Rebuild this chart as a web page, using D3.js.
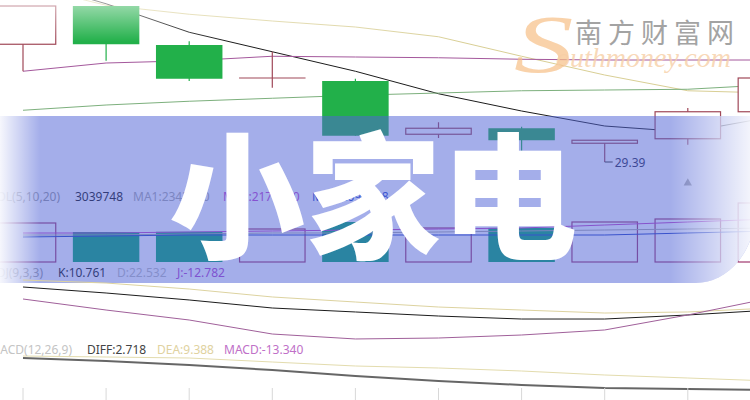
<!DOCTYPE html>
<html>
<head>
<meta charset="utf-8">
<script src="https://cdn.jsdelivr.net/npm/d3@7/dist/d3.min.js"></script>
<style>
html,body{margin:0;padding:0;background:#fff;}
svg{display:block;}
</style>
</head>
<body>
<svg id="chart" width="750" height="400"></svg>
<script>
// ---------- data ----------
const categories = ["D1","D2","D3","D4","D5","D6","D7","D8","D9","D10"];
const openP  = [30.96, 31.47, 30.95, 30.51, 30.47, 29.76, 29.84, 29.64, 29.70, 30.06];
const highP  = [31.47, 31.47, 31.00, 30.86, 30.50, 29.92, 29.86, 29.68, 30.11, 30.53];
const lowP   = [30.60, 30.74, 30.47, 30.38, 29.74, 29.71, 29.54, 29.39, 29.62, 30.04];
const closeP = [31.47, 30.96, 30.50, 30.51, 29.74, 29.84, 29.68, 29.68, 30.06, 30.51];
const ma5    = [31.82, 31.50, 31.12, 30.86, 30.60, 30.30, 30.07, 29.87, 29.79, 29.99];
const ma10   = [31.75, 31.48, 31.36, 31.27, 31.19, 31.06, 30.80, 30.55, 30.34, 30.31];
const ma20   = [30.60, 30.71, 30.74, 30.80, 30.79, 30.78, 30.76, 30.75, 30.75, 30.75];
const ma30   = [30.08, 30.15, 30.20, 30.24, 30.28, 30.31, 30.34, 30.35, 30.36, 30.42];
const volume = [2757000, 2121000, 2135000, 2333000, 2828000, 2404000, 2410000, 2828000, 3039748, 4171000];
const volMA1 = [1908700, 1908700, 1979400, 2050100, 2050100, 2120800, 2191500, 2262100, 2332800, 2403500];
const volMA2 = [2050000, 2050000, 2120800, 2191500, 2262100, 2332800, 2403500, 2615600, 2827700, 3039700];
const volMA3 = [1767300, 1838000, 1908700, 1908700, 1908700, 1908700, 1908700, 1908700, 2050100, 2191500];
const kLine  = [84.0, 76.0, 66.7, 56.0, 50.7, 45.3, 41.3, 41.3, 46.7, 53.3];
const dLine  = [93.3, 89.3, 81.3, 70.7, 64.0, 57.3, 53.3, 49.3, 50.7, 56.0];
const jLine  = [68.0, 53.3, 40.0, 21.3, 14.7, 16.0, 20.0, 26.7, 46.7, 69.3];
const diffLine = [0.68, 0.56, 0.40, 0.20, -0.04, -0.24, -0.40, -0.52, -0.56, -0.60];
const deaLine  = [0.76, 0.72, 0.68, 0.52, 0.36, 0.28, 0.16, 0.00, -0.12, -0.24];
const lowMarkLabel = "29.39";
const volLabels  = ["VOL(5,10,20)", "3039748", "MA1:2343520", "MA2:2174650", "MA3:2096548"];
const kdjLabels  = ["KDJ(9,3,3)", "K:10.761", "D:22.532", "J:-12.782"];
const macdLabels = ["MACD(12,26,9)", "DIFF:2.718", "DEA:9.388", "MACD:-13.340"];
const titleText = "小家电";
const wmCN = "南方财富网";
const wmS = "S";
const wmEN = "outhmoney.com";

// ---------- scales ----------
const svg = d3.select("#chart");
const W = 750, H = 400;
const x = d3.scaleBand().domain(categories).range([-18.55, 812.45]).paddingInner(0.2).paddingOuter(0.1);
const bw = x.bandwidth();
const cx = c => x(c) + bw / 2;
const yP = d3.scaleLinear().domain([29.39, 31.55]).range([162, 0]);
const yV = d3.scaleLinear().domain([0, 3039748]).range([262, 219]);
const yK = d3.scaleLinear().domain([0, 100]).range([350, 275]);
const yM = d3.scaleLinear().domain([-1, 1]).range([400, 350]);

const UP = "#a04858", DOWN = "#22b04a";
const defs = svg.append("defs");

const lineGen = (vals, ys) => d3.line().x((d, i) => cx(categories[i])).y(d => ys(d))(vals);
function drawLine(vals, ys, color, width) {
  svg.append("path").attr("d", lineGen(vals, ys)).attr("fill", "none")
    .attr("stroke", color).attr("stroke-width", width || 1);
}

// ---------- price panel ----------
drawLine(ma10, yP, "#d9cf95");
drawLine(ma5, yP, "#1c1c1c");
drawLine(ma20, yP, "#a4589c");
drawLine(ma30, yP, "#7db07d");

categories.forEach((c, i) => {
  const xc = cx(c), o = openP[i], cl = closeP[i];
  const up = cl >= o;
  const col = up ? UP : DOWN;
  const g = svg.append("g");
  g.append("line").attr("x1", xc).attr("x2", xc)
    .attr("y1", yP(highP[i])).attr("y2", yP(lowP[i])).attr("stroke", col).attr("stroke-width", 1.2);
  const yt = yP(Math.max(o, cl)), yb = yP(Math.min(o, cl));
  if (Math.abs(yb - yt) < 1) {
    g.append("line").attr("x1", x(c)).attr("x2", x(c) + bw).attr("y1", yt).attr("y2", yt)
      .attr("stroke", col).attr("stroke-width", 1.2);
  } else if (up) {
    g.append("rect").attr("x", x(c) + 0.5).attr("y", yt).attr("width", bw - 1).attr("height", yb - yt)
      .attr("fill", "#fff").attr("stroke", col).attr("stroke-width", 1.2);
  } else {
    g.append("rect").attr("x", x(c)).attr("y", yt).attr("width", bw).attr("height", yb - yt)
      .attr("fill", col);
  }
});

// low marker
const iLow = lowP.indexOf(d3.min(lowP));
const lx = cx(categories[iLow]), ly = yP(lowP[iLow]);
svg.append("path").attr("d", `M${lx},${ly}H${lx + 8}`).attr("stroke", "#333").attr("fill", "none");
svg.append("text").attr("x", lx + 10).attr("y", ly + 4.5).text(lowMarkLabel)
  .attr("font-family", "Noto Sans, sans-serif").attr("font-size", 12).attr("fill", "#2a2a50");
svg.append("path").attr("d", d3.symbol(d3.symbolTriangle, 30)()).attr("transform", `translate(${cx(categories[8])},183)`)
  .attr("fill", "#9a9a9a");

// top white fade
const gTop = defs.append("linearGradient").attr("id", "topFade").attr("x1", 0).attr("x2", 0).attr("y1", 0).attr("y2", 1);
gTop.append("stop").attr("offset", 0).attr("stop-color", "#fff").attr("stop-opacity", 0.6);
gTop.append("stop").attr("offset", 1).attr("stop-color", "#fff").attr("stop-opacity", 0);
svg.append("rect").attr("x", 0).attr("y", 0).attr("width", W).attr("height", 42).attr("fill", "url(#topFade)");

// ---------- volume panel ----------
categories.forEach((c, i) => {
  const up = closeP[i] >= openP[i];
  const yt = yV(volume[i]), yb = yV(0);
  if (up) {
    svg.append("rect").attr("x", x(c) + 0.5).attr("y", yt).attr("width", bw - 1).attr("height", yb - yt)
      .attr("fill", "none").attr("stroke", "#a0386e").attr("stroke-width", 1.2);
  } else {
    svg.append("rect").attr("x", x(c)).attr("y", yt).attr("width", bw).attr("height", yb - yt)
      .attr("fill", "#00a86a");
  }
});
drawLine(volMA1, yV, "#a8a8a8");
drawLine(volMA2, yV, "#c040c0");
drawLine(volMA3, yV, "#2040c0");

function labelRow(labels, y, xs, colors) {
  labels.forEach((t, i) => {
    svg.append("text").attr("x", xs[i]).attr("y", y).text(t)
      .attr("text-anchor", i === 0 ? "end" : "start")
      .attr("font-family", "Noto Sans, sans-serif").attr("font-size", 12).attr("fill", colors[i]);
  });
}
labelRow(volLabels, 201, [60, 75, 133, 223, 312], ["#999", "#111", "#a9a9a9", "#c040c8", "#2448c8"]);
labelRow(kdjLabels, 277, [43, 58, 117, 177], ["#999", "#111", "#bdbdbd", "#b040c8"]);

// ---------- banner overlay ----------
const bannerPath = "M-5,116H756V208A60,75 0 0 1 696,283H-5Z";
svg.append("path").attr("d", bannerPath).attr("fill", "rgb(80,100,215)").attr("fill-opacity", 0.52);
defs.append("clipPath").attr("id", "bannerClip").append("path").attr("d", bannerPath);
const gL = defs.append("linearGradient").attr("id", "leftFade");
gL.append("stop").attr("offset", 0).attr("stop-color", "#fff").attr("stop-opacity", 0.9);
gL.append("stop").attr("offset", 1).attr("stop-color", "#fff").attr("stop-opacity", 0);
const gR = defs.append("linearGradient").attr("id", "rightFade");
gR.append("stop").attr("offset", 0).attr("stop-color", "#fff").attr("stop-opacity", 0);
gR.append("stop").attr("offset", 1).attr("stop-color", "#fff").attr("stop-opacity", 0.88);
const fades = svg.append("g").attr("clip-path", "url(#bannerClip)");
fades.append("rect").attr("x", 0).attr("y", 116).attr("width", 40).attr("height", 170).attr("fill", "url(#leftFade)");
fades.append("rect").attr("x", 670).attr("y", 116).attr("width", 81).attr("height", 170).attr("fill", "url(#rightFade)");

// ---------- KDJ & MACD panels ----------
drawLine(dLine, yK, "#ddd3a0");
drawLine(kLine, yK, "#1c1c1c");
drawLine(jLine, yK, "#a0609a");
drawLine(deaLine, yM, "#e3dcae");
drawLine(diffLine, yM, "#666", 2);
labelRow(macdLabels, 354, [72, 87, 157, 224], ["#c4c4c4", "#444", "#e0d2a0", "#c070c8"]);

// bottom ticks
svg.append("g").selectAll("line").data(categories).join("line")
  .attr("x1", d => cx(d)).attr("x2", d => cx(d)).attr("y1", 388).attr("y2", 400)
  .attr("stroke", "#d8d8d8");

// ---------- watermark ----------
svg.append("text").attr("transform", "translate(514,72) scale(1.45,1)").text(wmS)
  .attr("font-family", "Liberation Serif, serif").attr("font-style", "italic").attr("font-size", 82)
  .attr("fill", "#f6bf86").attr("fill-opacity", 0.7);
svg.append("text").attr("x", 556).attr("y", 67).text(wmEN)
  .attr("font-family", "Liberation Serif, serif").attr("font-style", "italic").attr("font-size", 28)
  .attr("fill", "#f7cfa6").attr("fill-opacity", 0.8);
svg.append("text").attr("x", 575).attr("y", 43).text(wmCN)
  .attr("font-family", "Noto Sans CJK SC, sans-serif").attr("font-size", 27).attr("letter-spacing", 6)
  .attr("fill", "#a3a3a3");

// ---------- title ----------
svg.append("text").attr("x", 373).attr("y", 248).text(titleText)
  .attr("text-anchor", "middle")
  .attr("font-family", "Noto Sans CJK SC, sans-serif").attr("font-weight", 900).attr("font-size", 136)
  .attr("fill", "#fff");
</script>
</body>
</html>
